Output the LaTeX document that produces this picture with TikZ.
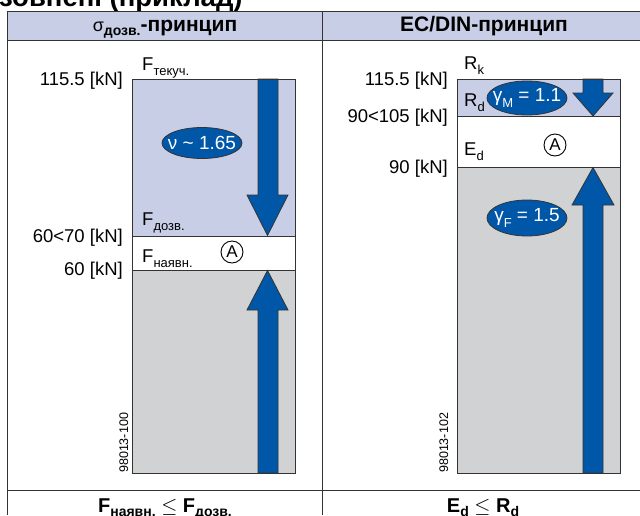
\documentclass[tikz,border=0pt]{standalone}
\usepackage{fontspec}
\setmainfont{Liberation Sans}
\usetikzlibrary{shapes.geometric}

\definecolor{lav}{HTML}{C8CEE6}
\definecolor{pale}{HTML}{D1D2D4}
\definecolor{steel}{HTML}{0057A8}
\definecolor{rule}{HTML}{333333}

% lowered index text for force symbols
\newcommand\idx[1]{\raisebox{-5.5pt}{\fontsize{13}{13}\selectfont #1}}
\newcommand\bidx[1]{\raisebox{-4pt}{\bfseries\fontsize{14}{14}\selectfont #1}}
% badge text that does not widen its ellipse
\newcommand\nowide[1]{\makebox[0pt]{#1}}

\tikzset{
  frame/.style={draw=rule, line width=1pt},
  kn/.style={anchor=base east, inner sep=0pt, font=\fontsize{18.5}{18.5}\selectfont},
  sym/.style={anchor=base west, inner sep=0pt, font=\fontsize{18.5}{18.5}\selectfont},
  badge/.style={ellipse, fill=steel, draw=rule, line width=0.8pt, text=white,
    minimum width=80pt, minimum height=33pt, inner sep=0pt,
    font=\fontsize{19}{19}\selectfont},
  circA/.style={circle, draw=black, line width=0.9pt, minimum size=22pt,
    inner sep=0pt, font=\fontsize{17}{17}\selectfont},
  blockarrow/.style={fill=steel, draw=rule, line width=0.8pt},
  head/.style={anchor=base, inner sep=0pt, font=\bfseries\fontsize{21}{21}\selectfont},
  foot/.style={anchor=base, inner sep=0pt, font=\bfseries\fontsize{20}{20}\selectfont},
  code/.style={rotate=90, anchor=base west, inner sep=0pt, font=\fontsize{12.5}{12.5}\selectfont}
}

\begin{document}
\begin{tikzpicture}[x=1pt, y=-1pt]
\useasboundingbox (0,0) rectangle (640,515);
\clip (0,0) rectangle (640,515);

% heading above the table (partly outside the page)
\node[anchor=base west, inner sep=0pt, font=\bfseries\fontsize{27.5}{27.5}\selectfont]
  (title) at (-1,6) {зовнені (приклад)};

% table: header row, body, bottom row
\fill[lav] (7,11) rectangle (640,40);
\draw[frame] (7,515) -- (7,11) -- (641,11);
\draw[frame] (7,40) -- (641,40);
\draw[frame] (7,490) -- (641,490);
\draw[frame] (322,11) -- (322,515);

\node[head] (hl) at (165,31) {{\mdseries\fontsize{18}{18}\selectfont σ}\bidx{дозв.}-принцип};
\node[head] (hr) at (484,31.5) {EC/DIN-принцип};

% ---------------- left column ----------------
\fill[lav]  (132,79)  rectangle (295,236);
\fill[white](132,236) rectangle (295,270);
\fill[pale] (132,270) rectangle (295,473);
\draw[frame] (132,236) -- (295,236);
\draw[frame] (132,270) -- (295,270);

\draw[blockarrow] (258,79) -- (258,195) -- (247,195) -- (267.5,235.5)
  -- (288,195) -- (278,195) -- (278,79) -- cycle;
\draw[blockarrow] (258,473) -- (258,310) -- (247,310) -- (267.5,270.5)
  -- (288,310) -- (278,310) -- (278,473) -- cycle;
\draw[frame] (132,79) rectangle (295,473);

\node[badge, minimum height=31pt] (nu) at (202,143) {\nowide{ν \textasciitilde{} 1.65}};
\node[circA] (al) at (232,252) {A};

\node[kn]  (l1) at (123,85)  {115.5 [kN]};
\node[kn]  (l2) at (123,242) {60<70 [kN]};
\node[kn]  (l3) at (123,275) {60 [kN]};
\node[sym] (fy) at (142,70)  {F\idx{текуч.}};
\node[sym] (fa) at (142,225) {F\idx{дозв.}};
\node[sym] (fn) at (142,262) {F\idx{наявн.}};
\node[code] (cl) at (128,473) {98013-100};

\node[foot] (bl) at (165,512) {F\bidx{наявн.} $\leq$ F\bidx{дозв.}};

% ---------------- right column ----------------
\fill[lav]  (457,79)  rectangle (620,116);
\fill[white](457,116) rectangle (620,167);
\fill[pale] (457,167) rectangle (620,473);
\draw[frame] (457,116) -- (620,116);
\draw[frame] (457,167) -- (620,167);

\draw[blockarrow] (583,79) -- (583,93) -- (573,93) -- (593,116)
  -- (613,93) -- (603,93) -- (603,79) -- cycle;
\draw[blockarrow] (583,473) -- (583,205) -- (572,205) -- (593,167.5)
  -- (614,205) -- (603,205) -- (603,473) -- cycle;
\draw[frame] (457,79) rectangle (620,473);

\node[kn]  (r1) at (448,85)  {115.5 [kN]};
\node[kn]  (r2) at (448,122) {90<105 [kN]};
\node[kn]  (r3) at (448,173) {90 [kN]};
\node[sym] (rk) at (464,69)  {R\idx{k}};
\node[sym] (rd) at (464,106) {R\idx{d}};
\node[sym] (ed) at (464,155) {E\idx{d}};

\node[badge, minimum height=34pt] (gm) at (527,98)  {\nowide{γ\idx{M} = 1.1}};
\node[badge, minimum height=36pt] (gf) at (527,218) {\nowide{γ\idx{F} = 1.5}};
\node[circA] (ar) at (555,145) {A};
\node[code] (cr) at (448,473) {98013-102};

\node[foot] (br) at (483,512) {E\bidx{d} $\leq$ R\bidx{d}};
\end{tikzpicture}
\end{document}
